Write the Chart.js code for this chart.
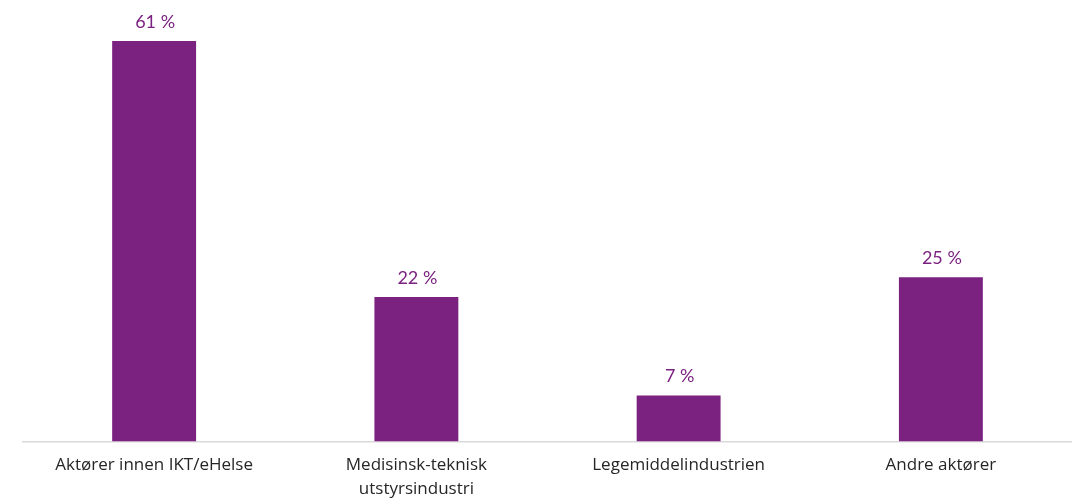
<!DOCTYPE html>
<html lang="no">
<head>
    <meta charset="UTF-8">
    <title>Aktører</title>
    <script src="https://cdn.jsdelivr.net/npm/chart.js@4/dist/chart.umd.min.js"></script>
    <style>
        body { margin: 0; background: #fff; }
        #wrap { width: 1072px; height: 500px; }
    </style>
</head>
<body>
    <div id="wrap"><canvas id="myChart"></canvas></div>
    <script>
        const kategorier = [
            'Aktører innen IKT/eHelse',
            ['Medisinsk-teknisk', 'utstyrsindustri'],
            'Legemiddelindustrien',
            'Andre aktører'
        ]
        const andel = [61, 22, 7, 25]

        const lilla = '#7b2180'

        // skriver prosenten over hver søyle
        const verdiEtiketter = {
            id: 'verdiEtiketter',
            afterDatasetsDraw(chart) {
                const ctx = chart.ctx
                const meta = chart.getDatasetMeta(0)
                ctx.save()
                ctx.fillStyle = lilla
                ctx.font = '18px Lato'
                ctx.textAlign = 'center'
                ctx.textBaseline = 'bottom'
                meta.data.forEach((bar, i) => {
                    ctx.fillText(andel[i] + ' %', bar.x + 1, bar.y - 10)
                })
                ctx.restore()
            }
        }

        const myChart = new Chart(document.getElementById('myChart'), {
            type: 'bar',
            data: {
                labels: kategorier,
                datasets: [{
                    data: andel,
                    backgroundColor: lilla,
                    borderWidth: 0,
                    categoryPercentage: 1,
                    barPercentage: 0.32
                }]
            },
            options: {
                responsive: true,
                maintainAspectRatio: false,
                animation: false,
                layout: { padding: { left: 23, right: -4, top: 0, bottom: -5 } },
                plugins: {
                    legend: { display: false },
                    tooltip: { enabled: false }
                },
                scales: {
                    x: {
                        grid: { display: false },
                        border: { display: true, color: '#d9d9d9', width: 1.5 },
                        ticks: {
                            color: '#262626',
                            font: { family: 'Open Sans', size: 17, lineHeight: 1.4 },
                            padding: 4,
                            maxRotation: 0,
                            autoSkip: false
                        }
                    },
                    y: {
                        display: false,
                        min: 0,
                        max: 67.25
                    }
                }
            },
            plugins: [verdiEtiketter]
        })
    </script>
</body>
</html>
